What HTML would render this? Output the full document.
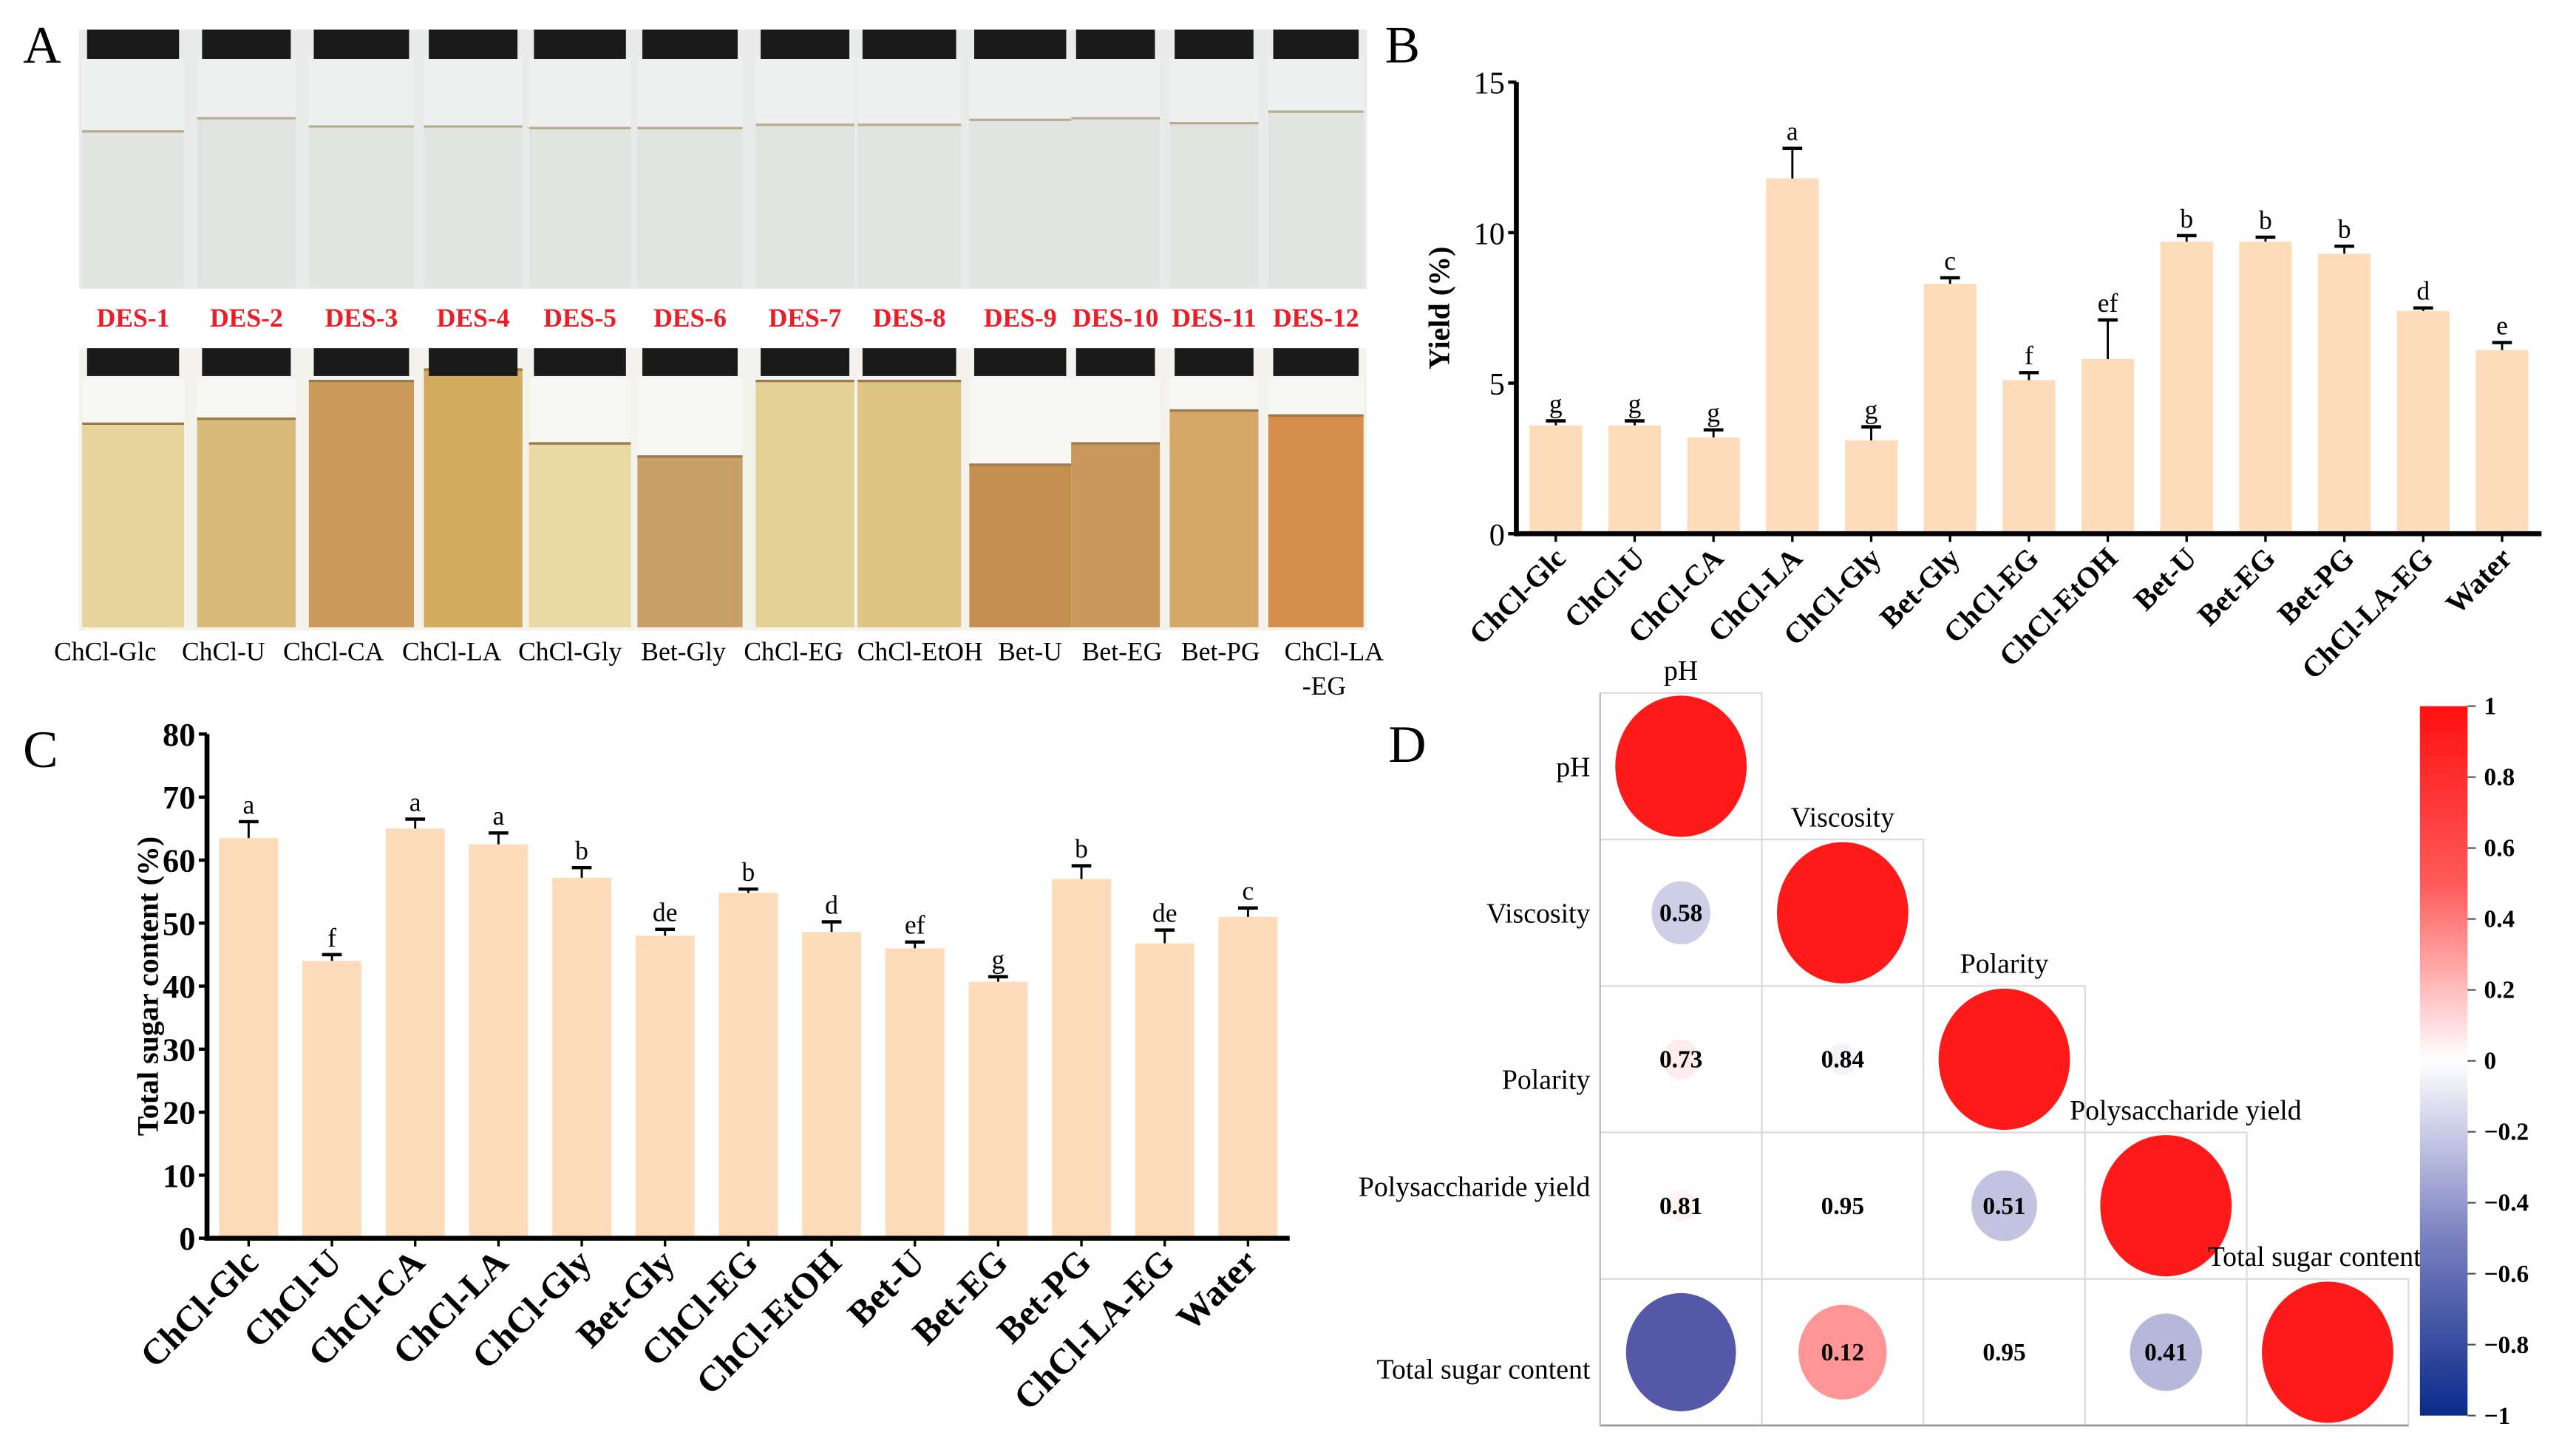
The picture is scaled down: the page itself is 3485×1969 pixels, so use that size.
<!DOCTYPE html>
<html><head><meta charset="utf-8">
<style>
html,body{margin:0;padding:0;background:#fff;}
svg{display:block;}
svg text{font-family:"Liberation Serif","Times New Roman",serif;}
</style></head>
<body>
<svg id="fig" width="3485" height="1969" viewBox="0 0 1568 886" preserveAspectRatio="none" xmlns="http://www.w3.org/2000/svg">
<defs>
<linearGradient id="cbar" x1="0" y1="0" x2="0" y2="1">
<stop offset="0" stop-color="#ff1010"/><stop offset="0.25" stop-color="#ff5a5a"/><stop offset="0.5" stop-color="#ffffff"/><stop offset="0.75" stop-color="#7a80c0"/><stop offset="1" stop-color="#0a2a8a"/>
</linearGradient>
</defs>
<g id="panelA"></g>
<g id="panelB"></g>
<g id="panelC"></g>
<g id="panelD"></g>
</svg>
<script>
const NS="http://www.w3.org/2000/svg";
function mk(parent,tag,attrs,text){const e=document.createElementNS(NS,tag);for(const k in attrs)e.setAttribute(k,attrs[k]);if(text!==undefined)e.textContent=text;parent.appendChild(e);return e;}

// ---------- data ----------
const categories=["ChCl-Glc","ChCl-U","ChCl-CA","ChCl-LA","ChCl-Gly","Bet-Gly","ChCl-EG","ChCl-EtOH","Bet-U","Bet-EG","Bet-PG","ChCl-LA-EG","Water"];
const yieldValues=[3.6,3.6,3.2,11.8,3.1,8.3,5.1,5.8,9.7,9.7,9.3,7.4,6.1];
const yieldErrors=[0.15,0.15,0.25,1.0,0.45,0.2,0.25,1.3,0.2,0.15,0.25,0.1,0.25];
const yieldLetters=["g","g","g","a","g","c","f","ef","b","b","b","d","e"];
const yieldTicks=[0,5,10,15];
const sugarValues=[63.5,44,65,62.5,57.2,48,54.8,48.6,46,40.7,57,46.8,51];
const sugarErrors=[2.6,1,1.5,1.8,1.6,1,0.6,1.6,1,0.8,2.1,2.1,1.4];
const sugarLetters=["a","f","a","a","b","de","b","d","ef","g","b","de","c"];
const sugarTicks=[0,10,20,30,40,50,60,70,80];
const corrVars=["pH","Viscosity","Polarity","Polysaccharide yield","Total sugar content"];
// lower triangle: [row, col, r, label]
const corrCells=[[1,0,-0.2,"0.58"],[2,0,0.08,"0.73"],[2,1,-0.05,"0.84"],[3,0,0.05,"0.81"],[3,1,0.02,"0.95"],[3,2,-0.25,"0.51"],[4,0,-0.7,""],[4,1,0.45,"0.12"],[4,2,0.02,"0.95"],[4,3,-0.3,"0.41"]];
const cbarTicks=[1,0.8,0.6,0.4,0.2,0,-0.2,-0.4,-0.6,-0.8,-1];
const desLabels=["DES-1","DES-2","DES-3","DES-4","DES-5","DES-6","DES-7","DES-8","DES-9","DES-10","DES-11","DES-12"];

// ---------- panel A ----------
const A=document.getElementById('panelA');
let t=mk(A,'text',{x:14,y:38,'font-size':32},"A");


const vx=[50,120,188,258,322,388,460,522,590,652,712,772];
const vw=[62,60,64,60,62,64,60,63,62,54,54,58];
const topLine=[80,72,77,77,78,78,76,76,73,72,75,68];
const botLine=[258,255,232,225,270,278,232,232,283,270,250,253];
const botCol=["#e6d49a","#d8b979","#c99a58","#d4aa5e","#e9d9a2","#c8a068","#e4d294","#ddc482","#c49050","#c8985a","#d6a868","#d68e4c"];
mk(A,'rect',{x:48,y:18,width:784,height:158,fill:'#e9ebea'});
mk(A,'rect',{x:48,y:212,width:784,height:172,fill:'#f4f2ec'});
for(let i=0;i<12;i++){
  const g=mk(A,'g',{});
  
  
  mk(g,'rect',{x:vx[i],y:35,width:vw[i],height:140,fill:'#eef0ef'});
  mk(g,'rect',{x:vx[i],y:topLine[i],width:vw[i],height:175-topLine[i],fill:'#e2e4e2'});
  mk(g,'line',{x1:vx[i],x2:vx[i]+vw[i],y1:topLine[i],y2:topLine[i],stroke:'#b8ad90','stroke-width':1.5});
  mk(g,'rect',{x:vx[i]+3,y:18,width:vw[i]-6,height:18,fill:'#1a1a1a'});
  mk(g,'rect',{x:vx[i],y:230,width:vw[i],height:152,fill:'#f6f6f3'});
  mk(g,'rect',{x:vx[i],y:botLine[i],width:vw[i],height:382-botLine[i],fill:botCol[i]});
  mk(g,'line',{x1:vx[i],x2:vx[i]+vw[i],y1:botLine[i],y2:botLine[i],stroke:'#9a7a50','stroke-width':1.5});
  mk(g,'rect',{x:vx[i]+3,y:212,width:vw[i]-6,height:17,fill:'#1a1a1a'});
  let d=mk(A,'text',{x:vx[i]+vw[i]/2,y:199,'font-size':16,'font-weight':'bold',fill:'#ee1c24','text-anchor':'middle'},desLabels[i]);
  
  
}
const nameX=[64,136,203,275,347,416,483,560,627,683,743,812];
for(let i=0;i<12;i++){
  let n=mk(A,'text',{x:nameX[i],y:402,'font-size':16,'text-anchor':'middle'},i==11?"ChCl-LA":categories[i]);
  
  
}
t=mk(A,'text',{x:806,y:423,'font-size':16,'text-anchor':'middle'},"-EG");



// ---------- bar chart helper ----------
function barChart(G,opt,vals,errs,letters,ticks){
  const n=vals.length;
  const step=(opt.x1-opt.x0)/n;
  const xc=i=>opt.x0+step*(i+0.5);
  const ys=v=>opt.yb-(v-opt.ymin)/(opt.ymax-opt.ymin)*(opt.yb-opt.yt);
  for(let i=0;i<n;i++){
    const b=mk(G,'rect',{x:xc(i)-opt.bw/2,y:ys(vals[i]),width:opt.bw,height:ys(0)-ys(vals[i]),fill:'#fedcbb'});
    
    
    const ye=ys(vals[i]+errs[i]);
    mk(G,'line',{x1:xc(i),x2:xc(i),y1:ys(vals[i]),y2:ye,stroke:'#000','stroke-width':1.3});
    mk(G,'line',{x1:xc(i)-6,x2:xc(i)+6,y1:ye,y2:ye,stroke:'#000','stroke-width':2});
    const l=mk(G,'text',{x:xc(i),y:ye-5,'font-size':16,'text-anchor':'middle'},letters[i]);
    
    
    mk(G,'line',{x1:xc(i),x2:xc(i),y1:opt.yb,y2:opt.yb+5,stroke:'#000','stroke-width':1.5});
    const c=mk(G,'text',{transform:`translate(${xc(i)+7},${opt.yb+16}) rotate(-45)`,'font-size':opt.xfs,'font-weight':'bold','text-anchor':'end'},categories[i]);
    
    
  }
  mk(G,'line',{x1:opt.x0,x2:opt.x0,y1:opt.yt,y2:opt.yb+1.5,stroke:'#000','stroke-width':3});
  mk(G,'line',{x1:opt.x0-1.5,x2:opt.x1,y1:opt.yb,y2:opt.yb,stroke:'#000','stroke-width':3});
  ticks.forEach(v=>{
    mk(G,'line',{x1:opt.x0-5,x2:opt.x0,y1:ys(v),y2:ys(v),stroke:'#000','stroke-width':2});
    const tl=mk(G,'text',{x:opt.x0-7,y:ys(v)+7,'font-size':opt.tfs,'font-weight':opt.tfw,'text-anchor':'end'},String(v));
    
    
  });
  const yt=mk(G,'text',{transform:`translate(${opt.titleX},${(opt.yt+opt.yb)/2}) rotate(-90)`,'font-size':18,'font-weight':'bold','text-anchor':'middle'},opt.title);
  
  
}

// ---------- panel B ----------
const B=document.getElementById('panelB');
t=mk(B,'text',{x:843,y:38,'font-size':32},"B");


barChart(B,{x0:923,x1:1547,yt:50,yb:325,ymin:0,ymax:15,bw:32,xfs:18,tfs:19,tfw:'normal',titleX:882,title:"Yield (%)"},yieldValues,yieldErrors,yieldLetters,yieldTicks);

// ---------- panel C ----------
const C=document.getElementById('panelC');
t=mk(C,'text',{x:14,y:467,'font-size':32},"C");


barChart(C,{x0:126,x1:785,yt:447,yb:754,ymin:0,ymax:80,bw:36,xfs:22,tfs:20,tfw:'bold',titleX:96,title:"Total sugar content (%)"},sugarValues,sugarErrors,sugarLetters,sugarTicks);

// ---------- panel D ----------
const D=document.getElementById('panelD');
t=mk(D,'text',{x:845,y:464,'font-size':32},"D");


const gx0=974,gy0=422,cw=98.4,ch=89.2;
function corrColor(r){
  if(r>=0){const f=r;const g=Math.round(255*(1-f*0.92));return `rgb(255,${g},${g})`;}
  const f=-r;return `rgb(${Math.round(255-f*243)},${Math.round(255-f*239)},${Math.round(255-f*124)})`;
}
for(let i=0;i<5;i++){
  for(let j=0;j<=i;j++){
    mk(D,'rect',{x:gx0+j*cw,y:gy0+i*ch,width:cw,height:ch,fill:'none',stroke:'#dcdcdc','stroke-width':1});
  }
  const cx=gx0+(i+0.5)*cw, cy=gy0+(i+0.5)*ch;
  const e=mk(D,'ellipse',{cx:cx,cy:cy,rx:40,ry:43,fill:'#ff1a1a'});
  
  
  const ct=mk(D,'text',{x:cx+(i==3?12:i==4?-8:0),y:gy0+i*ch-8,'font-size':17,'text-anchor':'middle'},corrVars[i]);
  
  
  const rl=mk(D,'text',{x:968,y:cy+6+(i==4?10:0)+(i==2?12:0)+(i==3?-12:0),'font-size':17,'text-anchor':'end'},corrVars[i]);
  
  
}
mk(D,'line',{x1:gx0,x2:gx0+5*cw,y1:gy0+5*ch,y2:gy0+5*ch,stroke:'#999','stroke-width':1.2});
mk(D,'line',{x1:gx0,x2:gx0,y1:gy0,y2:gy0+5*ch,stroke:'#bbb','stroke-width':1});
corrCells.forEach(c=>{
  const cx=gx0+(c[1]+0.5)*cw, cy=gy0+(c[0]+0.5)*ch;
  const r=Math.abs(c[2]);
  const e=mk(D,'ellipse',{cx:cx,cy:cy,rx:40*Math.sqrt(r),ry:43*Math.sqrt(r),fill:corrColor(c[2])});
  
  
  if(c[3]){
    const tx=mk(D,'text',{x:cx,y:cy+5,'font-size':15,'font-weight':'bold','text-anchor':'middle'},c[3]);
    
    
  }
});
const cb=mk(D,'rect',{x:1473,y:430,width:29,height:432,fill:'url(#cbar)'});


cbarTicks.forEach(v=>{
  const y=430+(1-v)/2*432;
  mk(D,'line',{x1:1502,x2:1507,y1:y,y2:y,stroke:'#555','stroke-width':1});
  const l=mk(D,'text',{x:1512,y:y+5,'font-size':15,'font-weight':'bold'},String(v).replace('-','\u2212'));
  
  
});
</script>
</body></html>
